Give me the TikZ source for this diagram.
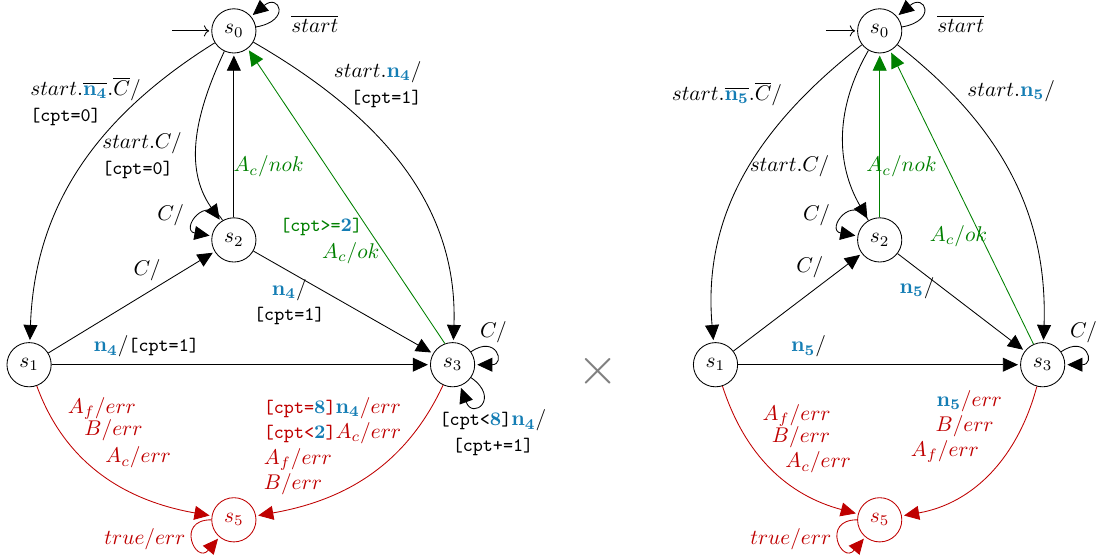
\documentclass[tikz,border=0pt]{standalone}
\usepackage{amsmath, amssymb}
\usepackage{xcolor}
\usepackage{tikz}
\usetikzlibrary{arrows.meta, positioning}
\definecolor{errred}{RGB}{191,0,0}
\definecolor{nblue}{RGB}{20,125,180}
\definecolor{okgreen}{RGB}{0,128,0}
\newcommand{\nn}[1]{{\color{nblue}\mathbf{n_{#1}}}}
\newcommand{\cpt}[1]{{\small\texttt{[cpt#1]}}}
\newcommand{\cptn}[2]{{\small\texttt{[cpt#1}{\color{nblue}$\mathbf{#2}$}\texttt{]}}}

\begin{document}
\begin{tikzpicture}[
  state/.style={circle, draw, minimum size=7.3mm, inner sep=0pt},
  errstate/.style={state, draw=errred, text=errred},
  trans/.style={-{Triangle[length=2.5mm,width=2.3mm]}, shorten >=1pt},
  init/.style={->, shorten >=1pt}
]
\useasboundingbox (0,0) rectangle (18.14,9.16);

% left automaton
\node[state] (l0) at (3.86,8.65) {$s_0$};
\node[state] (l2) at (3.86,5.20) {$s_2$};
\node[state] (l1) at (0.48,3.14) {$s_1$};
\node[state] (l3) at (7.47,3.14) {$s_3$};
\node[errstate] (l5) at (3.86,0.58) {$s_5$};
\coordinate (l0in) at (2.84,8.65);

\draw[init] (l0in) -- (l0);
\draw[trans] (l0) to[loop, out=10, in=40, min distance=6mm] node[pos=0.3, right, xshift=1.3mm, yshift=-1mm] {$\overline{start}$} (l0);
\draw[trans] (l0) to[out=212,in=88] node[pos=0.25, anchor=east, xshift=1.8mm, align=left] {$start.\overline{\nn4}.\overline{C}/$\\\cpt{=0}} (l1);
\draw[trans] (l0) to[out=245,in=125] node[pos=0.6, left, xshift=-1.35mm, align=left] {$start.C/$\\\cpt{=0}} (l2);
\draw[trans] (l0) to[out=-30,in=88] node[pos=0.19, anchor=west, xshift=1.3mm, align=right] {$start.\nn4/$\\\cpt{=1}} (l3);
\draw[trans] (l2) -- node[pos=0.31, right, xshift=-1.3mm, text=okgreen] {$A_c/nok$} (l0);
\draw[trans, okgreen] (l3.110) -- node[pos=0.396, anchor=east, inner sep=2pt] {\cptn{>=}{2}}
  node[pos=0.308, anchor=east, inner sep=2pt] {$A_c/ok$} (l0.-52);
\draw[trans] (l2) to[loop, out=120, in=170, min distance=5.4mm] node[left, xshift=-1.2mm] {$C/$} (l2);
\draw[trans] (l1) -- node[pos=0.69, above left, inner sep=1pt] {$C/$} (l2);
\draw[trans] (l2) -- node[pos=0.2, below, align=center] {$\nn4/$\\\cpt{=1}} (l3);
\draw[trans] (l1) -- node[pos=0.25, above] {$\nn4/$\cpt{=1}} (l3);
\draw[trans] (l3) to[loop, out=35, in=0, min distance=5.1mm] node[pos=0.45, above] {$C/$} (l3);
\draw[trans] (l3) to[loop, out=-35, in=-70, min distance=6mm] node[pos=0.5, below, xshift=1.9mm, align=center] {\cptn{<}{8}$\nn4/$\\\cpt{+=1}} (l3);
\draw[trans, errred] (l1) to[out=-70,in=170]
  node[pos=0.1, right, xshift=2.3mm] {$A_f/err$}
  node[pos=0.21, right, xshift=2.9mm] {$B/err$}
  node[pos=0.37, right, xshift=2.6mm] {$A_c/err$} (l5);
\draw[trans, errred] (l3) to[out=-115,in=10] node[pos=0.3, anchor=east, xshift=1mm, align=left]
  {\cptn{=}{8}$\nn4/err$\\\cptn{<}{2}$A_c/err$\\$A_f/err$\\$B/err$} (l5);
\draw[trans, errred] (l5) to[loop, out=180, in=-130, min distance=6mm] node[left] {$true/err$} (l5);

% product sign
\node[text=gray] (prod) at (9.87,3.04) {\Huge$\times$};

% right automaton
\node[state] (r0) at (14.52,8.65) {$s_0$};
\node[state] (r2) at (14.52,5.20) {$s_2$};
\node[state] (r1) at (11.81,3.14) {$s_1$};
\node[state] (r3) at (17.21,3.14) {$s_3$};
\node[errstate] (r5) at (14.52,0.58) {$s_5$};
\coordinate (r0in) at (13.63,8.65);

\draw[init] (r0in) -- (r0);
\draw[trans] (r0) to[loop, out=10, in=40, min distance=6mm] node[pos=0.3, right, xshift=1.3mm, yshift=-1mm] {$\overline{start}$} (r0);
\draw[trans] (r0) to[out=218,in=95] node[pos=0.2, left, xshift=-2.7mm] {$start.\overline{\nn5}.\overline{C}/$} (r1);
\draw[trans] (r0) to[out=240,in=120] node[pos=0.68, left, xshift=-1.65mm] {$start.C/$} (r2);
\draw[trans] (r0) to[out=-38,in=88] node[pos=0.19, right, xshift=1.65mm] {$start.\nn5/$} (r3);
\draw[trans, okgreen] (r2) -- node[pos=0.31, xshift=3.6mm] {$A_c/nok$} (r0);
\draw[trans, okgreen] (r3.114) -- node[pos=0.367, anchor=east, inner sep=0pt, xshift=1.1mm] {$A_c/ok$} (r0.-62);
\draw[trans] (r2) to[loop, out=120, in=170, min distance=5.4mm] node[left, xshift=-1.2mm] {$C/$} (r2);
\draw[trans] (r1) -- node[pos=0.72, above left, inner sep=1pt] {$C/$} (r2);
\draw[trans] (r2) -- node[pos=0.35, left] {$\nn5/$} (r3);
\draw[trans] (r1) -- node[pos=0.25, above] {$\nn5/$} (r3);
\draw[trans] (r3) to[loop, out=35, in=0, min distance=5.1mm] node[pos=0.45, above] {$C/$} (r3);
\draw[trans, errred] (r1) to[out=-72,in=165]
  node[pos=0.15, right, xshift=3.5mm] {$A_f/err$}
  node[pos=0.28, right, xshift=3mm] {$B/err$}
  node[pos=0.45, right, xshift=2mm] {$A_c/err$} (r5);
\draw[trans, errred] (r3) to[out=-105,in=10]
  node[pos=0.07, left, xshift=-3.8mm] {$\nn5/err$}
  node[pos=0.2, left, xshift=-3.5mm] {$B/err$}
  node[pos=0.35, left, xshift=-3.5mm] {$A_f/err$} (r5);
\draw[trans, errred] (r5) to[loop, out=180, in=-130, min distance=6mm] node[left] {$true/err$} (r5);

\end{tikzpicture}
\end{document}
